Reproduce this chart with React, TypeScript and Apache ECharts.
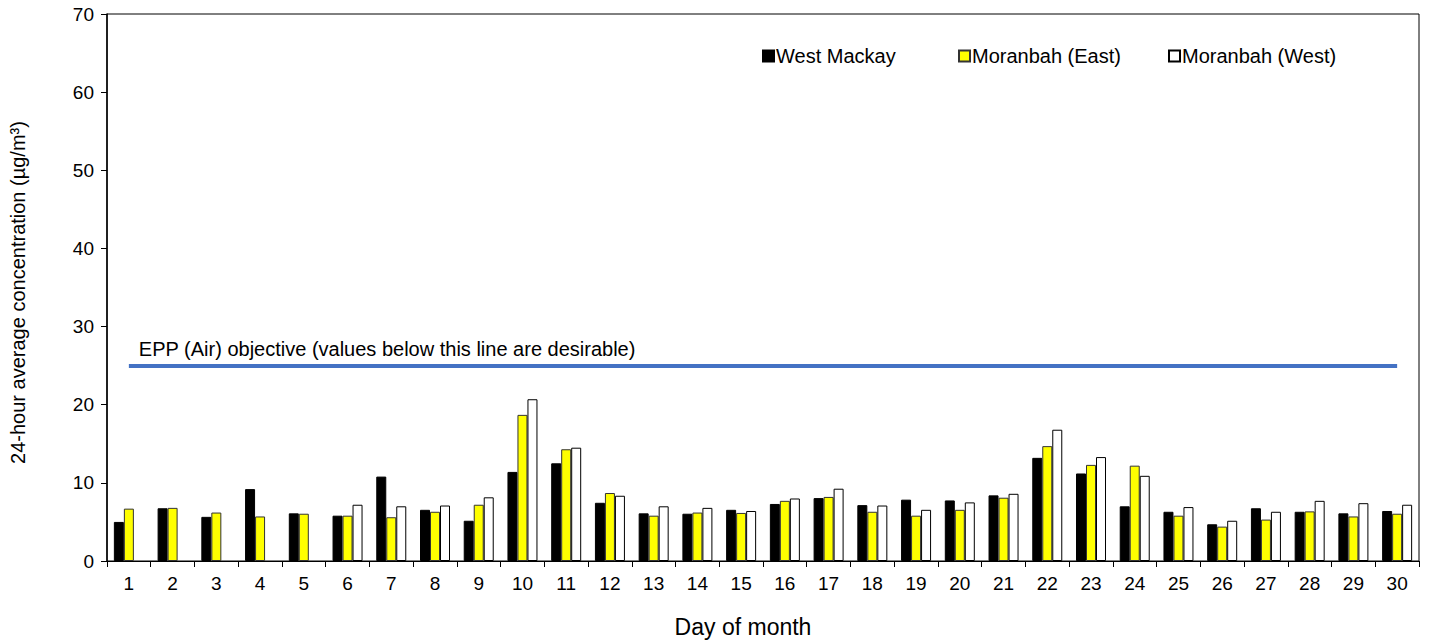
import React, { useEffect, useRef } from "react";
import * as echarts from "echarts";

const days = Array.from({ length: 30 }, (_, i) => String(i + 1));
const westMackay = [5.0, 6.75, 5.65, 9.2, 6.1, 5.8, 10.8, 6.55, 5.15, 11.4, 12.5, 7.45, 6.1, 6.05, 6.55, 7.3, 8.05, 7.15, 7.85, 7.75, 8.4, 13.2, 11.2, 7.0, 6.3, 4.7, 6.75, 6.3, 6.1, 6.4];
const moranbahEast = [6.7, 6.8, 6.2, 5.7, 6.05, 5.8, 5.6, 6.3, 7.2, 18.7, 14.3, 8.7, 5.8, 6.2, 6.15, 7.7, 8.2, 6.3, 5.8, 6.55, 8.1, 14.7, 12.3, 12.2, 5.8, 4.4, 5.3, 6.35, 5.7, 6.05];
const moranbahWest = [null, null, null, null, null, 7.2, 7.0, 7.1, 8.15, 20.7, 14.5, 8.35, 7.0, 6.8, 6.4, 8.0, 9.25, 7.1, 6.55, 7.5, 8.6, 16.8, 13.3, 10.9, 6.9, 5.15, 6.3, 7.7, 7.4, 7.2];
const objectiveValue = 25;
const objectiveLabel = "EPP (Air) objective (values below this line are desirable)";
const seriesNames = ["West Mackay", "Moranbah (East)", "Moranbah (West)"];

const FONT = "'Liberation Sans', Arial, sans-serif";

export default function App() {
  const ref = useRef<HTMLDivElement>(null);
  useEffect(() => {
    document.body.style.margin = "0";
    const chart = echarts.init(ref.current!, null, { renderer: "svg" });
    const legendBase = {
      orient: "horizontal",
      top: 41,
      itemWidth: 11,
      itemHeight: 11,
      itemGap: 4,
      textStyle: { fontFamily: FONT, fontSize: 20, color: "#000", padding: [0, 0, 0, -3] },
      icon: "rect",
    };
    chart.setOption({
      animation: false,
      textStyle: { fontFamily: FONT },
      grid: { left: 105, right: 10, top: 14, bottom: 82, show: true, borderColor: "#000", borderWidth: 1, backgroundColor: "transparent" },
      legend: [
        { ...legendBase, left: 757, data: [seriesNames[0]] },
        { ...legendBase, left: 953, data: [seriesNames[1]] },
        { ...legendBase, left: 1163, data: [seriesNames[2]] },
      ],
      xAxis: {
        type: "category",
        data: days,
        name: "Day of month",
        nameLocation: "middle",
        nameGap: 54,
        nameTextStyle: { fontFamily: FONT, fontSize: 23, color: "#000", padding: [0, 40, 0, 0] },
        axisLine: { lineStyle: { color: "#000", width: 1 } },
        axisTick: { show: true, length: 6, lineStyle: { color: "#000" } },
        axisLabel: { fontFamily: FONT, fontSize: 19, color: "#000", margin: 13 },
      },
      yAxis: {
        type: "value",
        min: 0,
        max: 70,
        interval: 10,
        name: "24-hour average concentration (µg/m³)",
        nameLocation: "middle",
        nameGap: 79,
        nameTextStyle: { fontFamily: FONT, fontSize: 20, color: "#000", padding: [0, 10, 0, 0] },
        axisLine: { show: true, lineStyle: { color: "#000", width: 1.5 } },
        axisTick: { show: true, length: 6, lineStyle: { color: "#000" } },
        axisLabel: { fontFamily: FONT, fontSize: 19, color: "#000", margin: 13 },
        splitLine: { show: false },
      },
      series: [
        {
          name: seriesNames[0],
          type: "bar",
          data: westMackay,
          barWidth: 10,
          barGap: "0%",
          itemStyle: { color: "#000", borderColor: "#000", borderWidth: 1 },
        },
        {
          name: seriesNames[1],
          type: "bar",
          data: moranbahEast,
          barWidth: 10,
          barGap: "0%",
          itemStyle: { color: "#FFFF00", borderColor: "#333", borderWidth: 1 },
          markLine: {
            silent: true,
            symbol: ["none", "none"],
            lineStyle: { color: "#4472C4", width: 4, type: "solid" },
            label: {
              show: true,
              position: "insideStartTop",
              formatter: objectiveLabel,
              fontFamily: FONT,
              fontSize: 20,
              color: "#000",
              distance: [10, 7],
            },
            data: [[{ coord: [days[0], objectiveValue] }, { coord: [days[days.length - 1], objectiveValue] }]],
          },
        },
        {
          name: seriesNames[2],
          type: "bar",
          data: moranbahWest,
          barWidth: 10,
          barGap: "0%",
          itemStyle: { color: "#FFFFFF", borderColor: "#000", borderWidth: 1 },
        },
      ],
    });
    return () => chart.dispose();
  }, []);
  return <div ref={ref} style={{ width: 1429, height: 643 }} />;
}
